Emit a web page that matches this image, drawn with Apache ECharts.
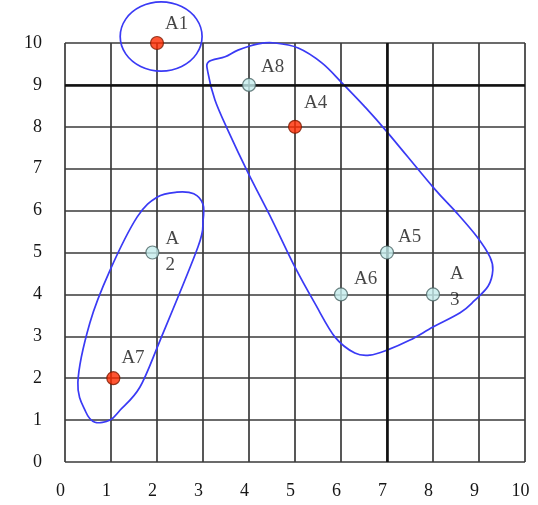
<!DOCTYPE html>
<html>
<head>
<meta charset="utf-8">
<script src="https://cdn.jsdelivr.net/npm/echarts@6/dist/echarts.min.js"></script>
<style>
  html, body { margin: 0; padding: 0; background: #fff; }
  #chart { width: 538px; height: 505px; }
</style>
</head>
<body>
<div id="chart"></div>
<script>
// Points A1..A8
const pointNames = ['A1', 'A2', 'A3', 'A4', 'A5', 'A6', 'A7', 'A8'];
const pointX = [2, 1.9, 8, 5, 7, 6, 1.05, 4];
const pointY = [10, 5, 4, 8, 5, 4, 2, 9];
const pointIsCenter = [true, false, false, true, false, false, true, false];
const pointLabels = ['A1', 'A\n2', 'A\n3', 'A4', 'A5', 'A6', 'A7', 'A8'];

// Axis ticks
const tickValues = [0, 1, 2, 3, 4, 5, 6, 7, 8, 9, 10];
const boldX = 7;
const boldY = 9;

// Cluster outlines (closed loops, traced clockwise)
const clusterOne = [
  [2.09, 10.98], [2.535, 10.87], [2.86, 10.57], [2.98, 10.155], [2.86, 9.74],
  [2.535, 9.44], [2.09, 9.33], [1.645, 9.44], [1.32, 9.74], [1.20, 10.155],
  [1.32, 10.57], [1.645, 10.87]
];
const clusterTwo = [
  [2.0, 6.32], [2.43, 6.44], [2.8, 6.4], [3.0, 6.15], [3.0, 5.75],
  [2.89, 5.13], [2.07, 2.91], [1.63, 1.79], [1.2, 1.24], [0.98, 1.0],
  [0.65, 0.95], [0.45, 1.2], [0.28, 1.9], [0.54, 3.32], [0.98, 4.58],
  [1.57, 5.85]
];
const clusterThree = [
  [4.2, 9.98], [4.57, 10.0], [5.07, 9.88], [5.59, 9.52], [6.02, 9.05],
  [6.5, 8.5], [7.0, 7.88], [8.0, 6.56], [8.52, 5.94], [8.96, 5.37],
  [9.24, 4.89], [9.3, 4.58], [9.2, 4.2], [8.9, 3.85], [8.59, 3.56],
  [8.0, 3.22], [7.5, 2.91], [7.0, 2.67], [6.63, 2.55], [6.3, 2.6],
  [5.87, 2.98], [5.43, 3.79], [5.0, 4.65], [4.5, 5.78], [3.98, 6.9],
  [3.54, 7.92], [3.26, 8.64], [3.11, 9.28], [3.12, 9.55], [3.48, 9.67],
  [3.76, 9.83]
];

const serif = '"Liberation Serif", "DejaVu Serif", serif';
const textColor = '#161616';
const labelOffsets = {
  'A1': [-3, -19], 'A2': [2, 0], 'A3': [6, -7], 'A4': [-2, -24],
  'A5': [0, -15], 'A6': [2, -15], 'A7': [-3, -20], 'A8': [1, -18]
};

const pointData = pointNames.map((n, i) => ({
  name: n,
  value: [pointX[i], pointY[i]],
  itemStyle: {
    color: pointIsCenter[i] ? '#ff2a00' : '#c4ecec',
    borderColor: pointIsCenter[i] ? '#7a1a00' : '#4a6464',
    borderWidth: 1.2
  },
  label: {
    show: true,
    formatter: pointLabels[i],
    position: 'right',
    distance: 4,
    offset: labelOffsets[n],
    fontFamily: serif,
    fontSize: 19,
    color: textColor,
    lineHeight: 26
  }
}));

// Closed Catmull-Rom spline through the loop points, in pixel space
function loopPath(pts) {
  const n = pts.length;
  let d = 'M' + pts[0][0] + ' ' + pts[0][1];
  for (let i = 0; i < n; i++) {
    const p0 = pts[(i - 1 + n) % n], p1 = pts[i];
    const p2 = pts[(i + 1) % n], p3 = pts[(i + 2) % n];
    const c1x = p1[0] + (p2[0] - p0[0]) / 6, c1y = p1[1] + (p2[1] - p0[1]) / 6;
    const c2x = p2[0] - (p3[0] - p1[0]) / 6, c2y = p2[1] - (p3[1] - p1[1]) / 6;
    d += ' C' + c1x + ' ' + c1y + ' ' + c2x + ' ' + c2y + ' ' + p2[0] + ' ' + p2[1];
  }
  return d + ' Z';
}

const loopSeries = (loop) => ({
  type: 'custom',
  coordinateSystem: 'cartesian2d',
  data: [loop[0]],
  clip: false,
  silent: true,
  z: 3,
  renderItem: function (params, api) {
    const px = loop.map(p => api.coord(p));
    return {
      type: 'path',
      shape: { pathData: loopPath(px) },
      style: { fill: 'none', stroke: '#3a3af5', lineWidth: 1.7 }
    };
  }
});

const gridLine = { show: true, lineStyle: { color: '#3a3a3a', width: 1.7 } };
const axisFont = { fontFamily: serif, fontSize: 18, color: textColor };

const chart = echarts.init(document.getElementById('chart'), null, { renderer: 'canvas' });
chart.setOption({
  backgroundColor: '#ffffff',
  animation: false,
  grid: { left: 65, right: 13, top: 43, bottom: 43 },
  xAxis: {
    type: 'value', min: tickValues[0], max: tickValues[tickValues.length - 1], interval: 1,
    axisLine: { show: false }, axisTick: { show: false },
    splitLine: gridLine,
    axisLabel: Object.assign({ margin: 20, padding: [0, 9, 0, 0] }, axisFont)
  },
  yAxis: {
    type: 'value', min: tickValues[0], max: tickValues[tickValues.length - 1], interval: 1,
    axisLine: { show: false }, axisTick: { show: false },
    splitLine: gridLine,
    axisLabel: Object.assign({ margin: 23, padding: [0, 0, 5, 0] }, axisFont)
  },
  series: [
    {
      type: 'scatter',
      data: [],
      silent: true,
      markLine: {
        silent: true,
        symbol: 'none',
        label: { show: false },
        lineStyle: { color: '#111', width: 2.6, type: 'solid' },
        data: [{ xAxis: boldX }, { yAxis: boldY }]
      },
      z: 2
    },
    loopSeries(clusterOne),
    loopSeries(clusterTwo),
    loopSeries(clusterThree),
    {
      type: 'scatter',
      symbol: 'circle',
      symbolSize: 13,
      data: pointData,
      clip: false,
      z: 5
    }
  ]
});
</script>
</body>
</html>
